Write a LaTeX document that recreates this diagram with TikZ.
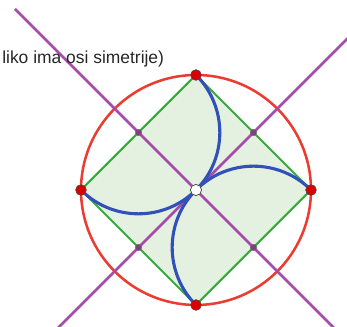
\documentclass[tikz,border=0pt]{standalone}
\usepackage{fontspec}
\setmainfont{Liberation Sans}
\definecolor{kruzred}{RGB}{235,60,50}
\definecolor{kvgreen}{RGB}{55,170,60}
\definecolor{kvfill}{RGB}{228,241,224}
\definecolor{osviolet}{RGB}{165,75,170}
\definecolor{lukblue}{RGB}{50,80,185}
\begin{document}
\begin{tikzpicture}[
  vrh/.style={circle, draw=black!70, fill=red!85!black, line width=0.4pt, inner sep=0pt, minimum size=2.7mm},
  pola/.style={circle, draw=black!60, fill=osviolet!80!black, line width=0.3pt, inner sep=0pt, minimum size=1.6mm},
  sred/.style={circle, draw=black!75, fill=white, line width=0.5pt, inner sep=0pt, minimum size=2.8mm},
  os/.style={osviolet, line width=2pt},
  luk/.style={lukblue, line width=2.2pt}]
  \clip (-4.9,-3.425) rectangle (3.775,4.75);

  % Square and circle
  \coordinate (O) at (0,0);
  \coordinate (T) at (0,2.875);
  \coordinate (R) at (2.875,0);
  \coordinate (B) at (0,-2.875);
  \coordinate (L) at (-2.875,0);
  \coordinate (MTL) at (-1.4375,1.4375);
  \coordinate (MTR) at (1.4375,1.4375);
  \coordinate (MBR) at (1.4375,-1.4375);
  \coordinate (MBL) at (-1.4375,-1.4375);
  \fill[kvfill] (T) -- (R) -- (B) -- (L) -- cycle;
  \draw[kruzred, line width=1.8pt] (O) circle (2.875);
  \draw[kvgreen, line width=1.5pt] (T) -- (R) -- (B) -- (L) -- cycle;

  % Axes of symmetry
  \coordinate (a1) at (-3.6,-3.6);
  \coordinate (a2) at (4,4);
  \coordinate (b1) at (-4.525,4.525);
  \coordinate (b2) at (3.6,-3.6);
  \draw[os] (a1) -- (a2);
  \draw[os] (b1) -- (b2);

  % Arcs
  \draw[luk] (T) arc[start angle=45, end angle=-45, radius=2.033];
  \draw[luk] (R) arc[start angle=45, end angle=135, radius=2.033];
  \draw[luk] (B) arc[start angle=225, end angle=135, radius=2.033];
  \draw[luk] (L) arc[start angle=225, end angle=315, radius=2.033];

  % Points
  \node[vrh] (vT) at (T) {};
  \node[vrh] (vR) at (R) {};
  \node[vrh] (vB) at (B) {};
  \node[vrh] (vL) at (L) {};
  \node[pola] (p1) at (MTL) {};
  \node[pola] (p2) at (MTR) {};
  \node[pola] (p3) at (MBR) {};
  \node[pola] (p4) at (MBL) {};
  \node[sred] (c) at (O) {};

  \node[anchor=base west, inner sep=0pt, font=\fontsize{12.4}{14}\selectfont, text=black!85]
    (naslov) at (-4.85,3.15) {liko ima osi simetrije)};
\end{tikzpicture}
\end{document}
